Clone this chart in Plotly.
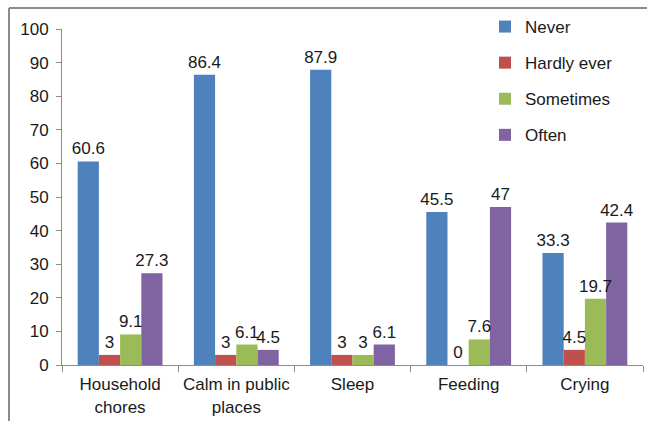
import plotly.graph_objects as go

categories = ["Household<br>chores", "Calm in public<br>places", "Sleep", "Feeding", "Crying"]
never = [60.6, 86.4, 87.9, 45.5, 33.3]
hardly_ever = [3, 3, 3, 0, 4.5]
sometimes = [9.1, 6.1, 3, 7.6, 19.7]
often = [27.3, 4.5, 6.1, 47, 42.4]

series = [
    ("Never", never, "#4F81BD"),
    ("Hardly ever", hardly_ever, "#C0504D"),
    ("Sometimes", sometimes, "#9BBB59"),
    ("Often", often, "#8064A2"),
]

FONT = "Arial, Liberation Sans, sans-serif"
FS = 17
TXT = "#1a1a1a"

fig = go.Figure()
# coloured bars
for i, (name, vals, color) in enumerate(series):
    fig.add_trace(go.Bar(
        x=categories, y=vals, name=name, offsetgroup=str(i),
        marker=dict(color=color, line=dict(width=0)),
        legendgroup=f"g{i}",
    ))
# value labels drawn last so they sit on top of neighbouring bars
for i, (name, vals, color) in enumerate(series):
    fig.add_trace(go.Bar(
        x=categories, y=vals, name=name, offsetgroup=str(i),
        marker=dict(color="rgba(0,0,0,0)", line=dict(width=0)),
        text=[f"{v:g}" for v in vals], textposition="outside",
        constraintext="none",
        textfont=dict(family=FONT, size=FS, color=TXT),
        cliponaxis=False, showlegend=False, hoverinfo="skip",
    ))

W, H = 647, 425
ML, MR, MT, MB = 62, 4, 29, 60
pw = W - ML - MR
ph = H - MT - MB

def px_x(px):
    return (px - ML) / pw

def px_y(py):
    return (H - MB - py) / ph

border = "#8c8c8c"
fig.add_shape(type="line", xref="paper", yref="paper",
              x0=px_x(9), x1=px_x(W + 5), y0=px_y(8), y1=px_y(8),
              line=dict(color=border, width=2))
fig.add_shape(type="line", xref="paper", yref="paper",
              x0=px_x(9), x1=px_x(9), y0=px_y(8), y1=px_y(421),
              line=dict(color=border, width=2))

fig.update_layout(
    width=W, height=H,
    margin=dict(l=ML, r=MR, t=MT, b=MB, autoexpand=False),
    paper_bgcolor="white", plot_bgcolor="white",
    barmode="group", bargap=0.27, bargroupgap=0,
    font=dict(family=FONT, size=FS, color=TXT),
    showlegend=True,
    legend=dict(x=px_x(485), y=px_y(9), xanchor="left", yanchor="top",
                bgcolor="rgba(0,0,0,0)", tracegroupgap=11,
                font=dict(family=FONT, size=FS, color=TXT),
                itemclick=False),
    xaxis=dict(showline=True, linecolor="#8c8c8c", linewidth=1,
               ticks="outside", ticklen=6, tickcolor="#8c8c8c",
               tickson="boundaries", showgrid=False, ticklabelstandoff=4,
               tickangle=0, automargin=False,
               tickfont=dict(family=FONT, size=FS, color=TXT)),
    yaxis=dict(range=[0, 100], dtick=10, showline=True, linecolor="#8c8c8c",
               linewidth=1, ticks="outside", ticklen=5, tickcolor="#8c8c8c",
               showgrid=False, zeroline=False, ticklabelstandoff=4,
               automargin=False,
               tickfont=dict(family=FONT, size=FS, color=TXT)),
)

fig.write_html("out.html")
